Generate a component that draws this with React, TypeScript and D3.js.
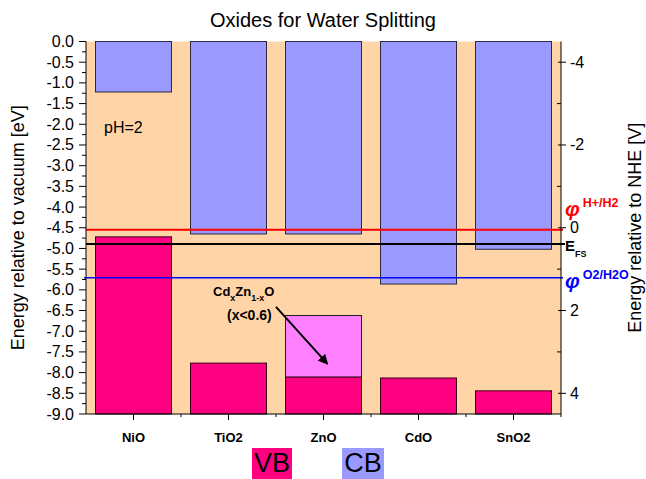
import React from "react";
import * as d3 from "d3";

// band edges (energies vs vacuum, eV)
const OXIDES = ["NiO", "TiO2", "ZnO", "CdO", "SnO2"];
const CB_EDGE = [-1.22, -4.65, -4.65, -5.86, -5.02];
const VB_EDGE = [-4.72, -7.77, -8.11, -8.13, -8.44];
// Cd-alloyed ZnO valence band window
const ALLOY_TOP = -6.62;

const H2_LEVEL = -4.55;   // phi H+/H2 at pH=2
const EFS_LEVEL = -4.89;  // E_FS
const O2_LEVEL = -5.71;   // phi O2/H2O

const LEFT_TICKS = d3.range(0, -9.01, -0.5);
const LEFT_MINOR = d3.range(-0.25, -9, -0.5);
const RIGHT_TICKS = [-4, -2, 0, 2, 4];
const RIGHT_MINOR = [-3, -1, 1, 3];

const W = 646;
const H = 479;
const FONT = "Arial, 'Liberation Sans', Helvetica, sans-serif";

const PEACH = "#FFD5A8";
const LAVENDER = "#9999FF";
const MAGENTA = "#FF0080";
const PINK = "#FF80FF";

export default function App() {
  const plot = { left: 86, right: 561, top: 41.5, bottom: 414 };

  const x = d3.scaleBand<string>()
    .domain(OXIDES)
    .range([plot.left, plot.right])
    .paddingInner(0.2)
    .paddingOuter(0.1);

  const y = d3.scaleLinear().domain([-9, 0]).range([plot.bottom, plot.top]);
  // NHE scale: V = -E - 4.5
  const yNHE = d3.scaleLinear().domain([4.5, -4.5]).range([plot.bottom, plot.top]);

  const bw = x.bandwidth();
  const step = x.step();
  const cx = (c: string) => (x(c) as number) + bw / 2;

  const zn = cx("ZnO");
  const arrowStart = { x: zn - 47.5, y: y(-6.41) };
  const arrowEnd = { x: zn + 4, y: y(-7.79) };

  return (
    <svg
      width={W}
      height={H}
      viewBox={`0 0 ${W} ${H}`}
      style={{ position: "absolute", left: 0, top: 0, background: "#fff" }}
      fontFamily={FONT}
    >
      <defs>
        <marker id="arr" viewBox="0 0 10 10" refX="9" refY="5" markerWidth="5" markerHeight="5" orient="auto">
          <path d="M0,0 L10,5 L0,10 z" fill="#000" />
        </marker>
      </defs>

      <text x={W / 2} y={27} textAnchor="middle" fontSize={20} fill="#000">
        Oxides for Water Splitting
      </text>

      {/* plot background */}
      <rect x={plot.left} y={plot.top} width={plot.right - plot.left} height={plot.bottom - plot.top} fill={PEACH} />

      {/* conduction band bars hanging from vacuum level */}
      {OXIDES.map((c, i) => (
        <rect
          key={"cb" + c}
          x={x(c)}
          y={y(0)}
          width={bw}
          height={y(CB_EDGE[i]) - y(0)}
          fill={LAVENDER}
          stroke="#2a2a3a"
          strokeWidth={1}
        />
      ))}

      {/* CdxZn1-xO window */}
      <rect
        x={x("ZnO")}
        y={y(ALLOY_TOP)}
        width={bw}
        height={y(VB_EDGE[2]) - y(ALLOY_TOP)}
        fill={PINK}
        stroke="#222"
        strokeWidth={1}
      />

      {/* valence band bars */}
      {OXIDES.map((c, i) => (
        <rect
          key={"vb" + c}
          x={x(c)}
          y={y(VB_EDGE[i])}
          width={bw}
          height={y(-9) - y(VB_EDGE[i])}
          fill={MAGENTA}
          stroke="#3a0018"
          strokeWidth={1}
        />
      ))}

      {/* reference levels */}
      <line x1={plot.left} x2={plot.right + 2} y1={y(H2_LEVEL)} y2={y(H2_LEVEL)} stroke="#FF0000" strokeWidth={2} />
      <line x1={plot.left} x2={plot.right + 4} y1={y(EFS_LEVEL)} y2={y(EFS_LEVEL)} stroke="#000" strokeWidth={2} />
      <line x1={plot.left - 2} x2={plot.right + 2} y1={y(O2_LEVEL)} y2={y(O2_LEVEL)} stroke="#0000FF" strokeWidth={1.5} />

      {/* left axis */}
      <line x1={plot.left} x2={plot.left} y1={plot.top} y2={plot.bottom} stroke="#000" />
      {LEFT_TICKS.map((t) => (
        <g key={"lt" + t}>
          <line x1={plot.left - 7} x2={plot.left} y1={y(t)} y2={y(t)} stroke="#000" />
          <text x={plot.left - 12} y={y(t) + 5.5} textAnchor="end" fontSize={16}>
            {t.toFixed(1)}
          </text>
        </g>
      ))}
      {LEFT_MINOR.map((t) => (
        <line key={"lm" + t} x1={plot.left - 4} x2={plot.left} y1={y(t)} y2={y(t)} stroke="#000" />
      ))}
      <text
        transform={`translate(24,${(plot.top + plot.bottom) / 2}) rotate(-90)`}
        textAnchor="middle"
        fontSize={18}
      >
        Energy relative to vacuum [eV]
      </text>

      {/* right axis */}
      <line x1={plot.right} x2={plot.right} y1={plot.top} y2={plot.bottom} stroke="#000" />
      {RIGHT_TICKS.map((t) => (
        <g key={"rt" + t}>
          <line x1={plot.right - 3} x2={plot.right + 5} y1={yNHE(t)} y2={yNHE(t)} stroke="#000" />
          <text x={plot.right + 9} y={yNHE(t) + 5.5} textAnchor="start" fontSize={16}>
            {t}
          </text>
        </g>
      ))}
      {RIGHT_MINOR.map((t) => (
        <line key={"rm" + t} x1={plot.right - 4} x2={plot.right} y1={yNHE(t)} y2={yNHE(t)} stroke="#000" />
      ))}
      <text
        transform={`translate(641,${(plot.top + plot.bottom) / 2}) rotate(-90)`}
        textAnchor="middle"
        fontSize={18}
      >
        Energy relative to NHE [V]
      </text>

      {/* bottom axis */}
      <line x1={plot.left} x2={plot.right} y1={plot.bottom} y2={plot.bottom} stroke="#000" />
      {OXIDES.map((c) => (
        <g key={"bt" + c}>
          <line x1={cx(c)} x2={cx(c)} y1={plot.bottom} y2={plot.bottom + 6} stroke="#000" />
          <line x1={cx(c) + step / 2} x2={cx(c) + step / 2} y1={plot.bottom} y2={plot.bottom + 3} stroke="#000" />
          <text x={cx(c)} y={plot.bottom + 28} textAnchor="middle" fontSize={13} fontWeight="bold">
            {c}
          </text>
        </g>
      ))}

      {/* annotations */}
      <text x={104} y={133} fontSize={16}>pH=2</text>

      <text x={213} y={296} fontSize={13} fontWeight="bold">
        Cd<tspan fontSize={9} dy={5}>x</tspan>
        <tspan dy={-5}>Zn</tspan>
        <tspan fontSize={9} dy={5}>1-x</tspan>
        <tspan dy={-5}>O</tspan>
      </text>
      <text x={227} y={320} fontSize={14} fontWeight="bold">(x&lt;0.6)</text>
      <line
        x1={arrowStart.x}
        y1={arrowStart.y}
        x2={arrowEnd.x}
        y2={arrowEnd.y}
        stroke="#000"
        strokeWidth={2}
        markerEnd="url(#arr)"
      />

      <text x={565} y={y(H2_LEVEL) - 14} fill="#FF0000" fontWeight="bold">
        <tspan fontSize={21} fontStyle="italic">φ</tspan>
        <tspan fontSize={12.5} dx={3} dy={-9}>H+/H2</tspan>
      </text>
      <text x={565} y={y(EFS_LEVEL) + 7} fill="#000" fontWeight="bold">
        <tspan fontSize={15}>E</tspan>
        <tspan fontSize={9} dy={6}>FS</tspan>
      </text>
      <text x={565} y={y(O2_LEVEL) + 10} fill="#0000FF" fontWeight="bold">
        <tspan fontSize={21} fontStyle="italic">φ</tspan>
        <tspan fontSize={12.5} dx={3} dy={-9}>O2/H2O</tspan>
      </text>

      {/* legend */}
      <rect x={252} y={448} width={40} height={31} fill={MAGENTA} />
      <text x={272} y={472} textAnchor="middle" fontSize={27}>VB</text>
      <rect x={342} y={448} width={42} height={31} fill={LAVENDER} />
      <text x={363} y={472} textAnchor="middle" fontSize={27}>CB</text>
    </svg>
  );
}
